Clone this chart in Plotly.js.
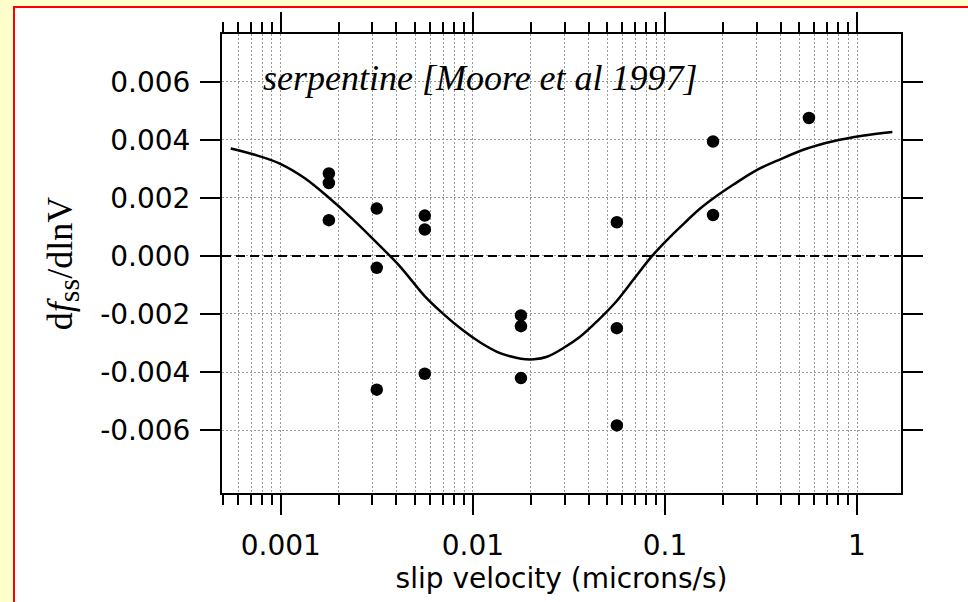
<!DOCTYPE html>
<html>
<head>
<meta charset="utf-8">
<script src="https://cdn.plot.ly/plotly-3.0.1.min.js"></script>
<style>
  html, body { margin:0; padding:0; width:968px; height:602px; overflow:hidden; background:#FFFFCC; }
  #frame { position:absolute; left:13px; top:6px; width:955px; height:596px;
           border-left:2px solid #FF0000; border-top:2px solid #FF0000; background:#ffffff; }
  #chart { width:953px; height:594px; }
</style>
</head>
<body>
<div id="frame"><div id="chart"></div></div>
<script>
// Measured data points: slip velocity (microns/s) and dfss/dlnV
const pointVelocity = [0.00178, 0.00178, 0.00178,
                       0.00316, 0.00316, 0.00316,
                       0.00562, 0.00562, 0.00562,
                       0.0178, 0.0178, 0.0178,
                       0.0562, 0.0562, 0.0562,
                       0.178, 0.178,
                       0.562];
const pointSlope = [0.00284, 0.00251, 0.00123,
                    0.00163, -0.00041, -0.00461,
                    0.00139, 0.00091, -0.00406,
                    -0.00205, -0.00242, -0.00421,
                    0.00116, -0.00249, -0.00584,
                    0.00394, 0.00141,
                    0.00475];

// Fitted curve
const curveVelocity = [0.000549, 0.000732, 0.000988, 0.001334, 0.001757, 0.002344, 0.00309, 0.00417,
                       0.005628, 0.007155, 0.00888, 0.010888, 0.013352, 0.015608, 0.017804, 0.020814,
                       0.024322, 0.029478, 0.036136, 0.044866, 0.055668, 0.069083, 0.085749, 0.103914,
                       0.125893, 0.15259, 0.18488, 0.22658, 0.29871, 0.39838, 0.54425, 0.75237,
                       1.0656, 1.5276];
const curveSlope = [0.003697, 0.003483, 0.00318, 0.002674, 0.002036, 0.001295, 0.00052, -0.000358,
                    -0.001392, -0.002047, -0.002563, -0.002977, -0.003304, -0.003459, -0.003545, -0.003562,
                    -0.003476, -0.003183, -0.002787, -0.002219, -0.001581, -0.000789, 0.0, 0.000589,
                    0.001123, 0.00163, 0.002053, 0.00245, 0.002949, 0.003328, 0.00369, 0.003948,
                    0.004138, 0.004269];

const yTickVals = [-0.006, -0.004, -0.002, 0, 0.002, 0.004, 0.006];
const yTickText = ['-0.006', '-0.004', '-0.002', '0.000', '0.002', '0.004', '0.006'];

const annotationText = '<i>serpentine [Moore et al 1997]</i>';
const xTitle = 'slip velocity (microns/s)';
const yTitle = 'd<i>f</i><sub><span style="font-size:30px">ss</span></sub>/dlnV';

const gridColor = '#9a9a9a';

const traces = [
  {
    x: curveVelocity, y: curveSlope, type: 'scatter', mode: 'lines',
    line: {color: '#000000', width: 2.5, shape: 'spline', smoothing: 1},
    hoverinfo: 'skip', showlegend: false
  },
  {
    x: pointVelocity, y: pointSlope, type: 'scatter', mode: 'markers',
    marker: {color: '#000000', size: 12.5},
    showlegend: false
  }
];

const layout = {
  width: 953, height: 594,
  margin: {l: 207.3, r: 67.3, t: 25.7, b: 109.3, pad: 0},
  paper_bgcolor: '#ffffff', plot_bgcolor: '#ffffff',
  showlegend: false,
  font: {family: 'DejaVu Sans, sans-serif', size: 28, color: '#000000'},
  xaxis: {
    type: 'log', range: [-3.306, 0.229], autorange: false,
    dtick: 1, tickformat: '~g',
    ticks: 'outside', ticklen: 20, tickwidth: 2, tickcolor: '#000000',
    ticklabelstandoff: 6,
    showline: true, linewidth: 2, linecolor: '#000000', mirror: 'allticks',
    showgrid: true, gridcolor: gridColor, gridwidth: 1, griddash: '2px,2px',
    zeroline: false,
    tickfont: {family: 'DejaVu Sans, sans-serif', size: 28, color: '#000000'},
    minor: {dtick: 'D1', ticks: 'outside', ticklen: 10, tickwidth: 2, tickcolor: '#000000',
            showgrid: true, gridcolor: gridColor, gridwidth: 1, griddash: '2px,2px'},
    title: {text: xTitle, standoff: 8,
            font: {family: 'DejaVu Sans, sans-serif', size: 28, color: '#000000'}}
  },
  yaxis: {
    range: [-0.008169, 0.007645], autorange: false,
    tickmode: 'array', tickvals: yTickVals, ticktext: yTickText,
    ticks: 'outside', ticklen: 20, tickwidth: 2, tickcolor: '#000000',
    ticklabelstandoff: 4,
    showline: true, linewidth: 2, linecolor: '#000000', mirror: 'allticks',
    showgrid: true, gridcolor: gridColor, gridwidth: 1, griddash: '2px,2px',
    zeroline: false,
    tickfont: {family: 'DejaVu Sans, sans-serif', size: 28, color: '#000000'},
    title: {text: yTitle, standoff: 17,
            font: {family: 'Liberation Serif, Times New Roman, serif', size: 36, color: '#000000'}}
  },
  shapes: [{
    type: 'line', xref: 'paper', x0: 0, x1: 1, yref: 'y', y0: 0, y1: 0,
    line: {color: '#000000', width: 2, dash: '9px,5px'}, layer: 'above'
  }],
  annotations: [{
    text: annotationText, xref: 'paper', yref: 'paper', x: 0.057, y: 0.904,
    xanchor: 'left', yanchor: 'middle', showarrow: false,
    font: {family: 'Liberation Serif, Times New Roman, serif', size: 36, color: '#000000'}
  }]
};

Plotly.newPlot('chart', traces, layout, {staticPlot: true, displayModeBar: false});
</script>
</body>
</html>
